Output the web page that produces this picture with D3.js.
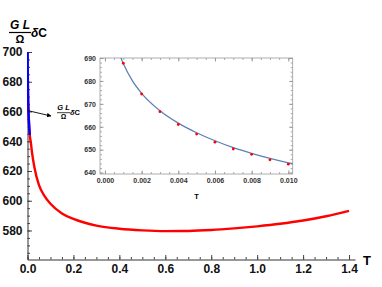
<!DOCTYPE html>
<html>
<head>
<meta charset="utf-8">
<script src="https://cdn.jsdelivr.net/npm/d3@7"></script>
<style>
  body { margin: 0; background: #fff; }
  svg { display: block; font-family: "Liberation Sans", Arial, sans-serif; }
  .tick text { font-weight: bold; fill: #111; }
  .inset .tick text { fill: #333; }
</style>
</head>
<body>
<script>
// Free energy style curve: the full range (red) and the small-T branch (blue),
// plus a zoomed inset of the small-T branch with sampled points.

// Main curve, T and value.
var mainT      = [0.001, 0.002, 0.004, 0.006, 0.01, 0.015, 0.02, 0.03, 0.05, 0.075, 0.1, 0.15, 0.2, 0.25, 0.3, 0.4, 0.5, 0.6, 0.7, 0.8, 0.9, 1.0, 1.1, 1.2, 1.3, 1.4],
    mainValues = [687.5, 674.5, 661.5, 653.8, 644.2, 638.5, 632, 622.5, 610.5, 603, 598, 591.5, 587.8, 585.2, 583.3, 581.2, 580.1, 579.6, 579.7, 580.3, 581.4, 582.8, 584.5, 586.7, 589.6, 593.2];

// Small-T branch (blue line), main plot and inset.
var smallT      = [0.0005, 0.0009, 0.001, 0.0015, 0.002, 0.003, 0.004, 0.005, 0.006, 0.007, 0.008, 0.009, 0.010, 0.0103],
    smallValues = [712, 689.5, 687.6, 680, 674.6, 667, 661.6, 657.4, 653.9, 650.9, 648.4, 646.2, 644.3, 643.8];

// Sampled points in the inset.
var pointT      = [0.001, 0.002, 0.003, 0.004, 0.005, 0.006, 0.007, 0.008, 0.009, 0.010],
    pointValues = [687.7, 674.3, 666.6, 661.0, 656.8, 653.3, 650.3, 648.0, 645.6, 643.7];

// Tick values.
var mainXTicks = [0, 0.2, 0.4, 0.6, 0.8, 1.0, 1.2, 1.4],
    mainYTicks = [580, 600, 620, 640, 660, 680, 700],
    insetXTicks = [0, 0.002, 0.004, 0.006, 0.008, 0.010],
    insetYTicks = [640, 650, 660, 670, 680, 690];

var width = 382,
    height = 287,
    svg = d3.select('body').append('svg')
      .attr('width', width)
      .attr('height', height);

// ---- main plot ----
var x = d3.scaleLinear().domain([0, 1.426]).range([27.5, 355]),
    y = d3.scaleLinear().domain([560.5, 700]).range([259.5, 52]);

svg.append('clipPath').attr('id', 'mainClip')
  .append('rect').attr('x', 27).attr('y', 52).attr('width', 330).attr('height', 208);

function minorRange(lo, hi, step) {
  var out = [];
  for (var v = lo; v <= hi + step / 2; v += step) out.push(+v.toFixed(6));
  return out;
}

// x axis: minor ticks, then major ticks with labels
svg.append('g')
  .attr('transform', 'translate(0,259.5)')
  .call(d3.axisBottom(x).tickValues(minorRange(0, 1.4, 0.05)).tickFormat('').tickSize(-2.5).tickSizeOuter(0))
  .call(function (g) { g.select('.domain').remove(); });
svg.append('g')
  .attr('transform', 'translate(0,259.5)')
  .call(d3.axisBottom(x).tickValues(mainXTicks).tickFormat(d3.format('.1f'))
    .tickSize(-4.5).tickSizeOuter(0).tickPadding(5))
  .call(function (g) {
    g.selectAll('text').attr('font-size', 12);
    g.selectAll('line, .domain').attr('stroke', '#333');
  });

// y axis
svg.append('g')
  .attr('transform', 'translate(27.5,0)')
  .call(d3.axisLeft(y).tickValues(minorRange(565, 700, 5)).tickFormat('').tickSize(-2.5).tickSizeOuter(0))
  .call(function (g) { g.select('.domain').remove(); });
svg.append('g')
  .attr('transform', 'translate(27.5,0)')
  .call(d3.axisLeft(y).tickValues(mainYTicks).tickFormat(d3.format('d'))
    .tickSize(-4.5).tickSizeOuter(0).tickPadding(5))
  .call(function (g) {
    g.selectAll('text').attr('font-size', 12);
    g.selectAll('line, .domain').attr('stroke', '#333');
  });

svg.selectAll('.tick line').attr('stroke', '#444');

var mainLine = d3.line()
  .x(function (d) { return x(d[0]); })
  .y(function (d) { return y(d[1]); })
  .curve(d3.curveMonotoneX);

svg.append('path')
  .datum(d3.zip(mainT, mainValues))
  .attr('clip-path', 'url(#mainClip)')
  .attr('fill', 'none')
  .attr('stroke', '#ff0000')
  .attr('stroke-width', 2.4)
  .attr('d', mainLine);

svg.append('path')
  .datum(d3.zip(smallT, smallValues).filter(function (d) { return d[0] <= 0.0101; }))
  .attr('clip-path', 'url(#mainClip)')
  .attr('fill', 'none')
  .attr('stroke', '#0000ff')
  .attr('stroke-width', 2.4)
  .attr('d', mainLine);

// axis names
svg.append('text').attr('x', 367).attr('y', 264.5).attr('text-anchor', 'middle')
  .attr('font-size', 13).attr('font-weight', 'bold').text('T');

// fraction label:  (G L / Ω) δC
function fractionLabel(cx, barY, halfW, size, deltaX) {
  var g = svg.append('g').attr('font-weight', 'bold');
  g.append('text').attr('x', cx).attr('y', barY - size * 0.3).attr('text-anchor', 'middle')
    .attr('font-size', size).attr('font-style', 'italic').text('G L');
  g.append('line').attr('x1', cx - halfW).attr('x2', cx + halfW)
    .attr('y1', barY).attr('y2', barY).attr('stroke', '#000').attr('stroke-width', size / 10);
  g.append('text').attr('x', cx).attr('y', barY + size * 0.9).attr('text-anchor', 'middle')
    .attr('font-size', size * 0.92).text('Ω');
  var t = g.append('text').attr('x', deltaX).attr('y', barY + size * 0.35)
    .attr('font-size', size);
  t.append('tspan').attr('font-style', 'italic').text('δ');
  t.append('tspan').text('C');
}
fractionLabel(20, 32.5, 11, 12, 31);
fractionLabel(63.5, 112.7, 6.5, 7.5, 70);

// arrow from the blue branch to its label
svg.append('defs').append('marker')
  .attr('id', 'arrow').attr('viewBox', '0 0 10 10').attr('refX', 9).attr('refY', 5)
  .attr('markerWidth', 5).attr('markerHeight', 5).attr('orient', 'auto')
  .append('path').attr('d', 'M0,0L10,5L0,10z').attr('fill', '#000');
svg.append('line')
  .attr('x1', x(0.0015)).attr('y1', y(660.6))
  .attr('x2', 51).attr('y2', 116)
  .attr('stroke', '#000').attr('stroke-width', 0.9)
  .attr('marker-end', 'url(#arrow)');

// ---- inset ----
var ix = d3.scaleLinear().domain([-0.00027, 0.01024]).range([100, 292.7]),
    iy = d3.scaleLinear().domain([639.4, 690]).range([174, 58]);

var inset = svg.append('g').attr('class', 'inset');

inset.append('rect')
  .attr('x', 100).attr('y', 58).attr('width', 192.7).attr('height', 116)
  .attr('fill', '#fff').attr('stroke', '#999').attr('stroke-width', 0.8);

function insetAxis(axisFn, scale, pos, minor, major, labels) {
  inset.append('g').attr('transform', pos)
    .call(axisFn(scale).tickValues(minor).tickFormat('').tickSize(-2).tickSizeOuter(0))
    .call(function (g) { g.select('.domain').remove(); g.selectAll('line').attr('stroke', '#aaa'); });
  inset.append('g').attr('transform', pos)
    .call(axisFn(scale).tickValues(major).tickFormat(labels || '').tickSize(-3.5).tickSizeOuter(0).tickPadding(4))
    .call(function (g) {
      g.select('.domain').remove();
      g.selectAll('line').attr('stroke', '#999');
      g.selectAll('text').attr('font-size', 7);
    });
}
var iMinorX = minorRange(0, 0.010, 0.0005),
    iMinorY = minorRange(640, 690, 2);
insetAxis(d3.axisBottom, ix, 'translate(0,174)', iMinorX, insetXTicks, d3.format('.3f'));
insetAxis(d3.axisTop, ix, 'translate(0,58)', iMinorX, insetXTicks, null);
insetAxis(d3.axisLeft, iy, 'translate(100,0)', iMinorY, insetYTicks, d3.format('d'));
insetAxis(d3.axisRight, iy, 'translate(292.7,0)', iMinorY, insetYTicks, null);

inset.append('clipPath').attr('id', 'insetClip')
  .append('rect').attr('x', 100).attr('y', 58).attr('width', 192.7).attr('height', 116);

inset.append('path')
  .datum(d3.zip(smallT, smallValues))
  .attr('clip-path', 'url(#insetClip)')
  .attr('fill', 'none')
  .attr('stroke', '#5e81b5')
  .attr('stroke-width', 1.3)
  .attr('d', d3.line()
    .x(function (d) { return ix(d[0]); })
    .y(function (d) { return iy(d[1]); })
    .curve(d3.curveMonotoneX));

inset.selectAll('circle.pt')
  .data(d3.zip(pointT, pointValues))
  .join('circle')
  .attr('class', 'pt')
  .attr('cx', function (d) { return ix(d[0]); })
  .attr('cy', function (d) { return iy(d[1]); })
  .attr('r', 1.4)
  .attr('fill', '#ff0000');

inset.append('text').attr('x', 196.5).attr('y', 198.5).attr('text-anchor', 'middle')
  .attr('font-size', 7.5).attr('font-weight', 'bold').text('T');
</script>
</body>
</html>
